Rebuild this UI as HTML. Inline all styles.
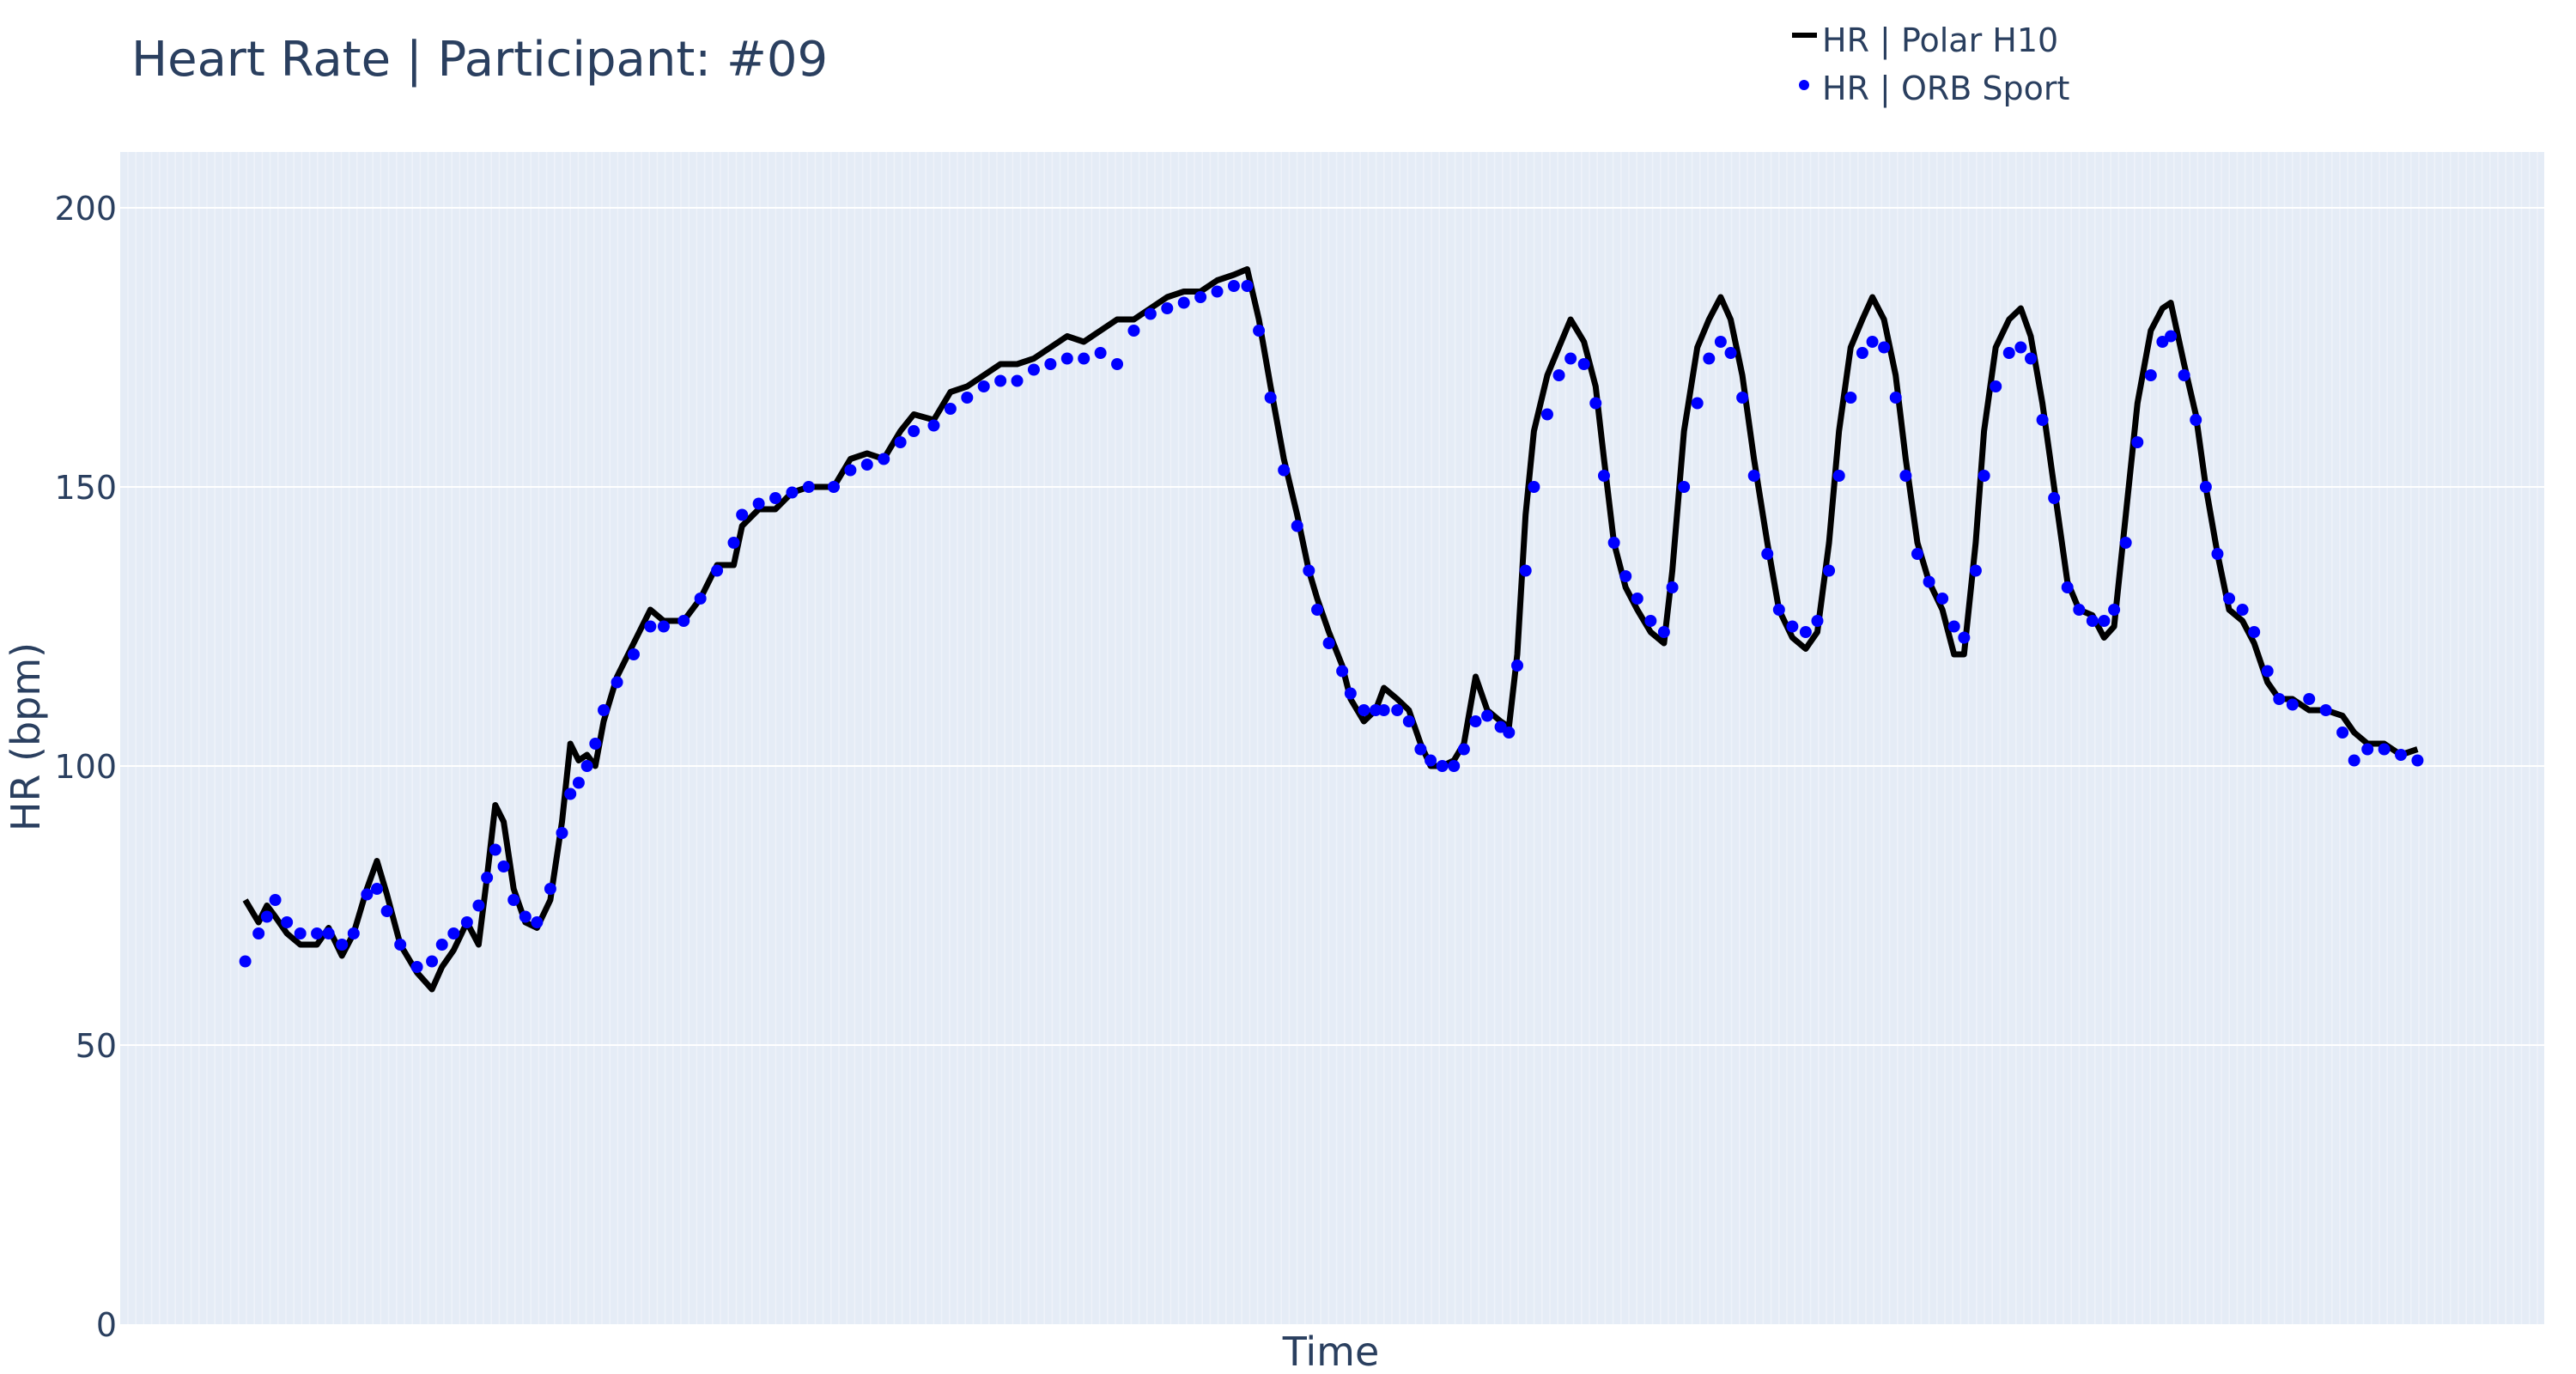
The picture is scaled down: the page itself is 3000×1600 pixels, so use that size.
<!DOCTYPE html>
<html><head><meta charset="utf-8"><style>
html,body{margin:0;padding:0;background:#fff;}
svg{display:block;font-family:"DejaVu Sans","Liberation Sans",sans-serif;}
</style></head><body>
<svg id="chart" width="3000" height="1600" viewBox="0 0 3000 1600" xmlns="http://www.w3.org/2000/svg">
<rect x="0" y="0" width="3000" height="1600" fill="#fff"/>
<rect x="140" y="177" width="2823" height="1365" fill="#e5ecf6"/>
<g id="vgrid"></g><g id="hgrid"></g><g id="yticks"></g>
<g id="series"></g>
<text x="153" y="88" font-size="56" fill="#2a3f5f">Heart Rate | Participant: #09</text>
<text x="1550" y="1590" font-size="46" fill="#2a3f5f" text-anchor="middle">Time</text>
<text transform="translate(46,858) rotate(-90)" font-size="46" fill="#2a3f5f" text-anchor="middle">HR (bpm)</text>
<g>
<g><line x1="2087" y1="41" x2="2116" y2="41" stroke="#000" stroke-width="6"/><text x="2122" y="60" font-size="38" fill="#2a3f5f">HR | Polar H10</text></g>
<g><circle cx="2101" cy="99" r="6" fill="#0000ff"/><text x="2122" y="116" font-size="38" fill="#2a3f5f">HR | ORB Sport</text></g>
</g>
</svg>
<script>
const times=[0,8,13,18,25,33,43,50,58,65,73,79,85,93,103,112,118,125,133,140,145,150,155,161,168,175,183,190,195,200,205,210,215,223,233,243,251,263,273,283,293,298,308,318,328,338,353,363,373,383,393,401,413,423,433,443,453,463,473,483,493,503,513,523,533,543,553,563,573,583,593,601,608,615,623,631,638,643,650,658,663,671,678,683,691,698,705,711,718,725,731,738,745,753,758,763,768,773,781,788,795,803,810,815,821,828,835,843,851,856,863,871,878,885,891,898,905,913,920,928,936,943,950,956,963,970,976,983,990,996,1003,1010,1018,1025,1031,1038,1043,1050,1058,1065,1071,1078,1085,1093,1100,1108,1115,1121,1128,1135,1143,1150,1155,1163,1170,1176,1183,1190,1198,1205,1213,1220,1228,1238,1248,1258,1265,1273,1283,1293,1303];
const polarHR=[76,72,75,73,70,68,68,71,66,70,78,83,77,68,63,60,64,67,72,68,80,93,90,78,72,71,76,90,104,101,102,100,108,116,122,128,126,126,130,136,136,143,146,146,149,150,150,155,156,155,160,163,162,167,168,170,172,172,173,175,177,176,178,180,180,182,184,185,185,187,188,189,180,168,155,145,135,130,124,118,112,108,110,114,112,110,104,100,100,101,104,116,110,108,107,120,145,160,170,175,180,176,168,155,140,132,128,124,122,135,160,175,180,184,180,170,155,140,128,123,121,124,140,160,175,180,184,180,170,155,140,133,128,120,120,140,160,175,180,182,177,165,150,133,128,127,123,125,145,165,178,182,183,172,163,150,138,128,126,122,115,112,112,110,110,109,106,104,104,102,103];
const orbHR=[65,70,73,76,72,70,70,70,68,70,77,78,74,68,64,65,68,70,72,75,80,85,82,76,73,72,78,88,95,97,100,104,110,115,120,125,125,126,130,135,140,145,147,148,149,150,150,153,154,155,158,160,161,164,166,168,169,169,171,172,173,173,174,172,178,181,182,183,184,185,186,186,178,166,153,143,135,128,122,117,113,110,110,110,110,108,103,101,100,100,103,108,109,107,106,118,135,150,163,170,173,172,165,152,140,134,130,126,124,132,150,165,173,176,174,166,152,138,128,125,124,126,135,152,166,174,176,175,166,152,138,133,130,125,123,135,152,168,174,175,173,162,148,132,128,126,126,128,140,158,170,176,177,170,162,150,138,130,128,124,117,112,111,112,110,106,101,103,103,102,101];
const yTickVals=[0,50,100,150,200];
const yTickLabels=["0","50","100","150","200"];
const X0=140,X1=2963,Y0=177,Y1=1542;
const tMin=-75,tMax=1379,vMin=0,vMax=210;
function xs(t){return X0+(t-tMin)/(tMax-tMin)*(X1-X0);}
function ys(v){return Y1-(v-vMin)/(vMax-vMin)*(Y1-Y0);}
const NS="http://www.w3.org/2000/svg";
function mk(tag,attrs,parent){const e=document.createElementNS(NS,tag);for(const k in attrs)e.setAttribute(k,attrs[k]);parent.appendChild(e);return e;}
const vg=document.getElementById('vgrid');
for(let x=X0+9;x<X1;x+=9.2){const l=mk('line',{x1:x,x2:x,y1:Y0,y2:Y1,stroke:'#eef2f9','stroke-width':1.6},vg);

}
const hg=document.getElementById('hgrid'),yt=document.getElementById('yticks');
yTickVals.forEach((v,i)=>{
 if(v>0){const l=mk('line',{x1:X0,x2:X1,y1:ys(v),y2:ys(v),stroke:'#fff','stroke-width':2},hg);
 
 }
 const t=mk('text',{x:136,y:ys(v)+14,'font-size':38,fill:'#2a3f5f','text-anchor':'end'},yt);
 t.textContent=yTickLabels[i];
 
 
});
const sg=document.getElementById('series');
const pts=times.map((t,i)=>xs(t).toFixed(1)+','+ys(polarHR[i]).toFixed(1)).join(' ');
const pl=mk('polyline',{points:pts,fill:'none',stroke:'#000','stroke-width':7,'stroke-linejoin':'round'},sg);


const og=mk('g',{},sg);


times.forEach((t,i)=>{
 const c=mk('circle',{cx:xs(t),cy:ys(orbHR[i]),r:7,fill:'#0000ff'},og);
 
 
});
</script>
</body></html>
